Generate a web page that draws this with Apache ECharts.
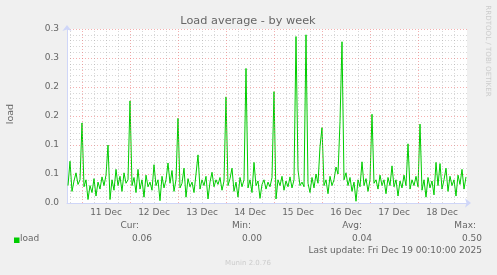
<!DOCTYPE html>
<html>
<head>
<meta charset="utf-8">
<script src="https://cdn.jsdelivr.net/npm/echarts@6/dist/echarts.min.js"></script>
<style>html,body{margin:0;padding:0;background:#f0f0f0;}#c{width:497px;height:275px;}</style>
</head>
<body>
<div id="c"></div>
<script>
// Time axis in hours relative to 11 Dec 00:00; first sample slot starts at -7.5 h (10 Dec 16:30)
const rangeStartHour = -7.5;
const rangeEndHour = 192.5;
const dayLabels = ['11 Dec','12 Dec','13 Dec','14 Dec','15 Dec','16 Dec','17 Dec','18 Dec'];
const yTickLabels = ['0.0','0.1','0.1','0.2','0.2','0.3','0.3'];
// hourly load average samples (one per hour, starting 10 Dec 16:30)
const load = [
0.030,0.072,0.020,0.038,0.052,0.032,0.040,0.138,0.028,0.040,
0.006,0.030,0.018,0.042,0.012,0.036,0.024,0.045,0.030,0.048,
0.100,0.006,0.040,0.022,0.058,0.030,0.046,0.020,0.052,0.034,
0.040,0.176,0.030,0.044,0.018,0.058,0.024,0.040,0.010,0.048,
0.028,0.036,0.022,0.066,0.030,0.040,0.004,0.046,0.026,0.040,
0.069,0.034,0.056,0.020,0.040,0.146,0.026,0.034,0.060,0.010,
0.042,0.028,0.036,0.018,0.050,0.083,0.024,0.040,0.030,0.046,
0.007,0.036,0.053,0.028,0.040,0.032,0.044,0.022,0.038,0.183,
0.030,0.042,0.060,0.020,0.036,0.010,0.044,0.028,0.040,0.232,
0.026,0.040,0.018,0.070,0.030,0.038,0.008,0.032,0.040,0.024,
0.036,0.028,0.044,0.192,0.007,0.040,0.030,0.046,0.022,0.038,
0.028,0.045,0.026,0.040,0.287,0.057,0.030,0.036,0.028,0.290,
0.034,0.018,0.044,0.026,0.050,0.034,0.097,0.130,0.030,0.040,
0.016,0.046,0.030,0.040,0.062,0.050,0.140,0.278,0.040,0.052,
0.030,0.044,0.020,0.036,0.003,0.040,0.028,0.071,0.030,0.042,
0.020,0.040,0.153,0.034,0.040,0.024,0.048,0.030,0.040,0.016,
0.044,0.030,0.064,0.028,0.040,0.012,0.038,0.026,0.048,0.030,
0.102,0.024,0.040,0.030,0.046,0.028,0.136,0.022,0.040,0.010,
0.044,0.026,0.038,0.014,0.070,0.030,0.068,0.024,0.040,0.060,
0.020,0.046,0.030,0.040,0.012,0.048,0.032,0.058,0.024,0.045
];
const stats = {cur:'0.06', min:'0.00', avg:'0.04', max:'0.50'};
const lastUpdate = 'Last update: Fri Dec 19 00:10:00 2025';

const seriesData = load.map((v, i) => [rangeStartHour + i + 0.5, v]);
const midnights = dayLabels.map((d, i) => i * 24);
const noons = dayLabels.map((d, i) => i * 24 + 12);
const minorHours = [];
for (let h = -6; h < rangeEndHour; h += 6) { if (h % 24 !== 0) minorHours.push(h); }

const FONT = 'DejaVu Sans';
const TXT = '#666666';
const MINOR = 'rgba(140,140,140,0.35)';
const MAJOR = 'rgba(235,110,110,0.55)';
const chart = echarts.init(document.getElementById('c'), null, {renderer:'canvas'});
function txt(x, y, s, align, size, color, rot) {
  return {type:'text', x:x, y:y, rotation: rot || 0, silent:true,
    style:{text:s, font: size + 'px "' + FONT + '"', fill: color || TXT,
      align: align, textAlign: align, verticalAlign:'middle', textVerticalAlign:'middle'}};
}
chart.setOption({
  backgroundColor:'#f0f0f0',
  animation:false,
  grid:{left:67, top:29, width:400, height:174, show:true, backgroundColor:'#ffffff', borderWidth:0},
  xAxis:{type:'value', min:rangeStartHour, max:rangeEndHour,
    axisLine:{show:true, onZero:false, lineStyle:{color:'#CFD6F8', width:1}, symbol:['none','arrow'], symbolSize:[7,6], symbolOffset:[0,4]},
    axisTick:{show:false},
    splitLine:{show:false},
    axisLabel:{customValues:noons, formatter:v => dayLabels[Math.round((v - 12) / 24)],
      color:TXT, fontFamily:FONT, fontSize:9, margin:5}
  },
  yAxis:{type:'value', min:0, max:0.3, interval:0.05,
    axisLine:{show:true, onZero:false, lineStyle:{color:'#CFD6F8', width:1}, symbol:['none','arrow'], symbolSize:[7,6], symbolOffset:[0,4]},
    axisTick:{show:false},
    axisLabel:{formatter:v => yTickLabels[Math.round(v / 0.05)], color:TXT, fontFamily:FONT, fontSize:9, margin:8},
    splitLine:{show:true, lineStyle:{color:MAJOR, type:[1,2], width:1}},
    minorTick:{show:false, splitNumber:5},
    minorSplitLine:{show:true, lineStyle:{color:MINOR, type:[1,2], width:1}}
  },
  series:[
    {type:'line', data:[], z:1, silent:true,
      markLine:{silent:true, symbol:'none', label:{show:false}, animation:false,
        data: minorHours.map(h => ({xAxis:h, lineStyle:{color:MINOR, type:[1,2], width:1}}))
          .concat(midnights.map(h => ({xAxis:h, lineStyle:{color:MAJOR, type:[1,2], width:1}})))
      }
    },
    {type:'line', data:seriesData, z:3, showSymbol:false, symbol:'none',
      lineStyle:{color:'#00cc00', width:1}, itemStyle:{color:'#00cc00'}}
  ],
  graphic:[
    txt(248, 21, 'Load average - by week', 'center', 11.3),
    txt(11, 114, 'load', 'center', 9.5, TXT, Math.PI/2),
    txt(488, 51, 'RRDTOOL / TOBI OETIKER', 'center', 7.1, '#cccccc', -Math.PI/2),
    {type:'rect', shape:{x:14, y:237.5, width:5.5, height:5.5}, style:{fill:'#00cc00'}, silent:true},
    txt(20, 239, 'load', 'left', 9),
    txt(139, 226, 'Cur:', 'right', 9),
    txt(251, 226, 'Min:', 'right', 9),
    txt(362, 226, 'Avg:', 'right', 9),
    txt(476, 226, 'Max:', 'right', 9),
    txt(152, 239, stats.cur, 'right', 9),
    txt(262, 239, stats.min, 'right', 9),
    txt(372, 239, stats.avg, 'right', 9),
    txt(482, 239, stats.max, 'right', 9),
    txt(482, 251, lastUpdate, 'right', 9),
    txt(248, 263, 'Munin 2.0.76', 'center', 7, '#cccccc')
  ]
});
</script>
</body>
</html>
